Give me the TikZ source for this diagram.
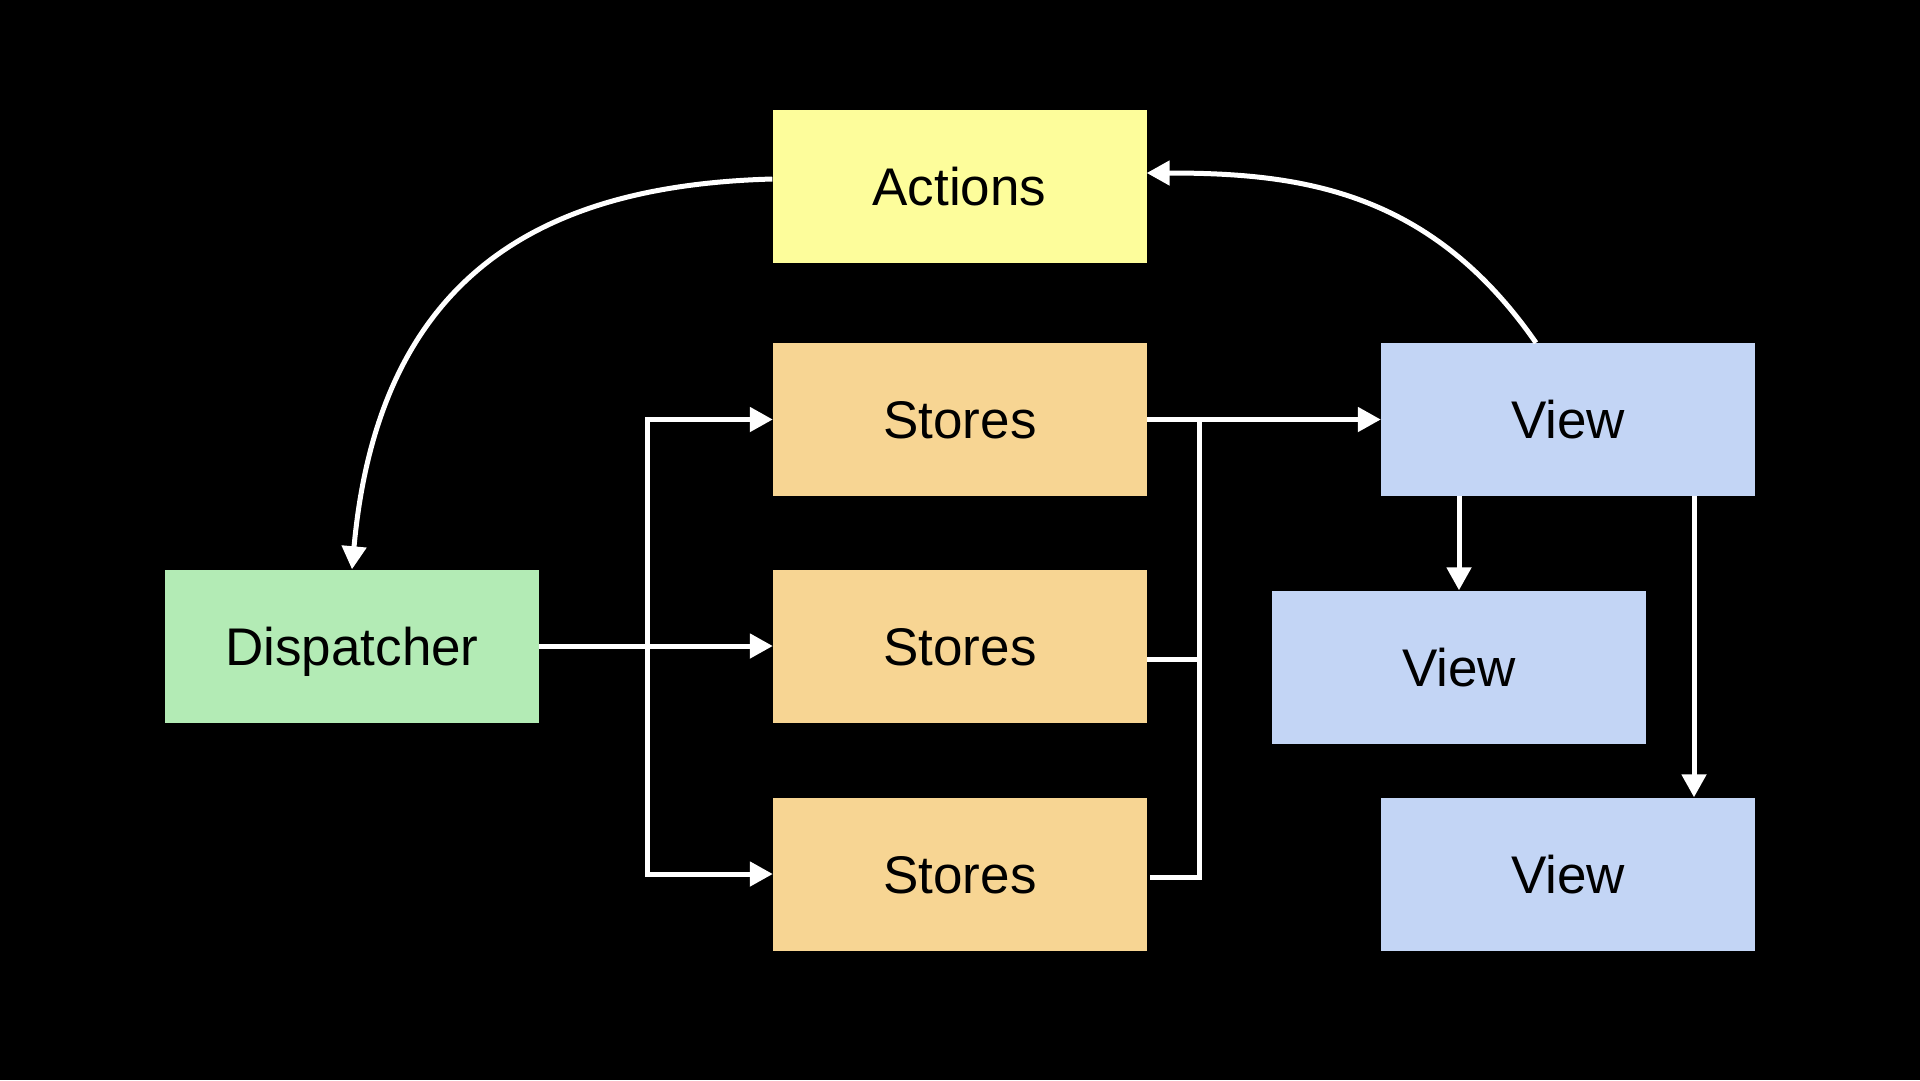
\documentclass[tikz,border=0pt]{standalone}
\usepackage{fontspec}
\setmainfont{Liberation Sans}
\usetikzlibrary{arrows.meta}

\definecolor{actfill}{HTML}{FDFD9B}
\definecolor{storefill}{HTML}{F7D593}
\definecolor{dispfill}{HTML}{B3EBB5}
\definecolor{viewfill}{HTML}{C3D5F5}

\tikzset{
  box/.style={rectangle, draw=none, inner sep=0pt,
    minimum width=374pt, minimum height=153pt,
    text height=38pt, text depth=0pt,
    font=\fontsize{53pt}{60pt}\selectfont, text=black},
  actbox/.style={box, fill=actfill},
  storebox/.style={box, fill=storefill},
  dispbox/.style={box, fill=dispfill},
  viewbox/.style={box, fill=viewfill},
  wire/.style={draw=white, line width=5pt, line join=miter},
  arr/.style={wire, -{Triangle[length=23pt,width=24pt]}}
}

\begin{document}
\begin{tikzpicture}[x=1pt, y=-1pt]
  % canvas
  \fill[black] (0,0) rectangle (1920,1080);
  \useasboundingbox (0,0) rectangle (1920,1080);

  % boxes
  \node[actbox]   (act)  at (959.5,186.5) {Actions};
  \node[storebox] (st1)  at (960,419.5)   {Stores};
  \node[storebox] (st2)  at (960,646)     {Stores};
  \node[storebox] (st3)  at (960,874)     {Stores};
  \node[dispbox]  (disp) at (352,646)     {Dispatcher};
  \node[viewbox]  (v1)   at (1568,419.5)  {View};
  \node[viewbox]  (v2)   at (1459,667)    {View};
  \node[viewbox]  (v3)   at (1568,874)    {View};

  % helper coordinates for the buses
  \coordinate (bx) at (647,646);
  \coordinate (cx) at (1199,0);
  \coordinate (vx) at (1694,0);
  \coordinate (s2o) at ([yshift=-13pt]st2.east);
  \coordinate (s3o) at ([xshift=3pt,yshift=-3.5pt]st3.east);

  % Actions -> Dispatcher
  \draw[arr] ([yshift=7.5pt]act.west) .. controls (560,185) and (380,260) .. (disp.north);

  % View -> Actions
  \draw[arr] ([xshift=-32pt]v1.north) .. controls (1430,190) and (1300,173) .. ([yshift=13.5pt]act.east);

  % Dispatcher -> Stores
  \draw[arr] (disp.east) -- (st2.west);
  \draw[arr] (bx) |- (st1.west);
  \draw[arr] (bx) |- (st3.west);

  % Stores -> View
  \draw[arr] (st1.east) -- (v1.west);
  \draw[wire] (s3o) -| (cx |- st1.east);
  \draw[wire] (s2o) -- (s2o -| cx);

  % View -> child views
  \draw[arr] (v2.north |- v1.south) -- (v2.north);
  \draw[arr] (vx |- v1.south) -- (vx |- v3.north);
\end{tikzpicture}
\end{document}
